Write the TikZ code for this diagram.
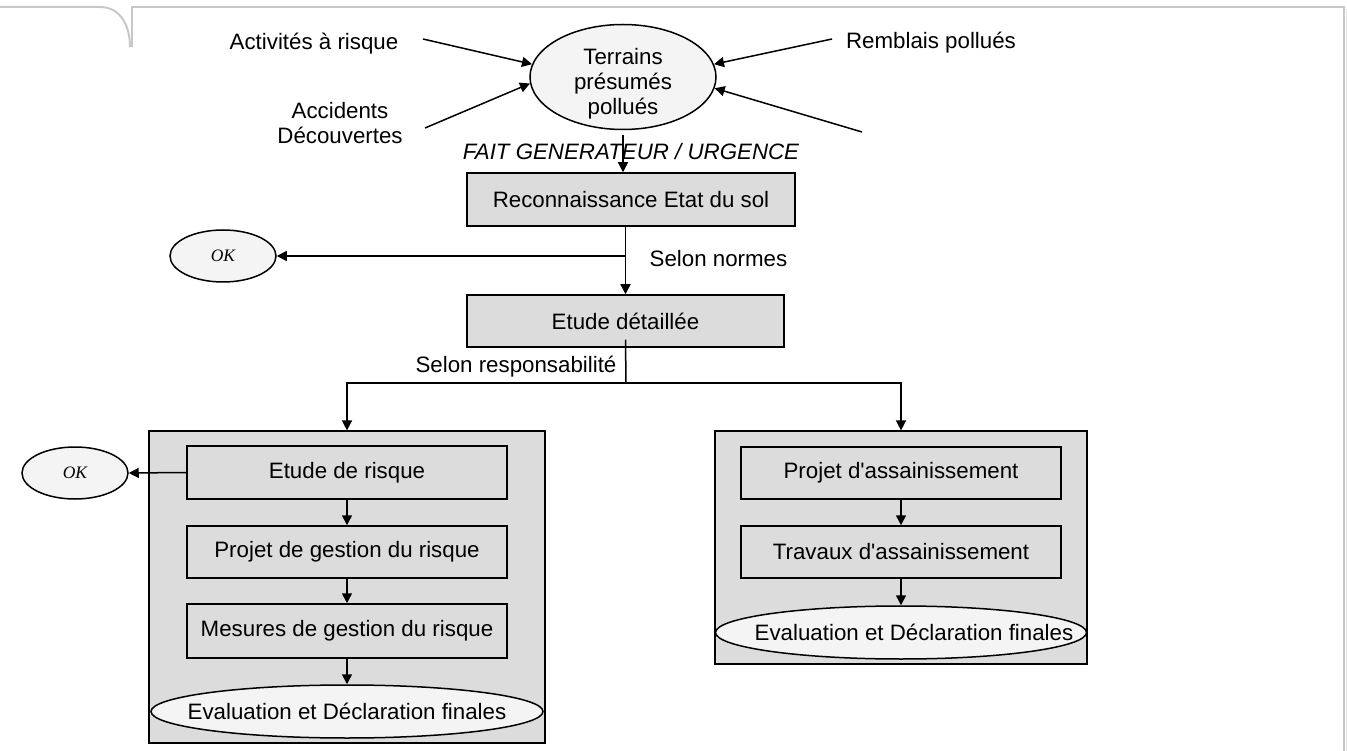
\documentclass[tikz,border=0pt]{standalone}
\usepackage{fontspec}
\setmainfont{Liberation Sans}[Ligatures=TeXOff]
\newfontfamily\okfont{Liberation Serif}
\usetikzlibrary{shapes.geometric,arrows.meta}

\definecolor{boxgrey}{HTML}{DCDCDC}
\definecolor{ovalfill}{HTML}{F4F4F4}
\definecolor{framegrey}{HTML}{C8C8C8}
\definecolor{frameshade}{HTML}{E2E2E2}

\tikzset{
  txt/.style={font=\fontsize{22.3}{25}\selectfont, inner sep=0pt, align=center},
  stepbox/.style={draw=black, line width=1.5pt, fill=boxgrey, inner sep=0pt,
    font=\fontsize{22.3}{25}\selectfont},
  groupbox/.style={draw=black, line width=1.2pt, fill=boxgrey, inner sep=0pt},
  oval/.style={ellipse, draw=black, line width=1.5pt, fill=ovalfill, inner sep=0pt},
  okoval/.style={ellipse, draw=black, line width=1.5pt, fill=ovalfill, inner sep=0pt,
    minimum width=106pt, minimum height=52pt,
    font=\okfont\itshape\fontsize{17.5}{20}\selectfont},
  link/.style={draw=black, line width=1.5pt},
  arr/.style={link, -{Triangle[length=10pt,width=10pt]}},
}

\begin{document}
\begin{tikzpicture}[x=1pt,y=-1pt]
  \useasboundingbox (0,0) rectangle (1347,751);

  % page frame with folded tab
  \draw[framegrey, line width=2pt] (0,7) -- (100,7)
    .. controls (120,7) and (130,25) .. (130,47);
  \draw[framegrey, line width=2pt] (132,47) -- (132,7) -- (1344,7) -- (1344,751);
  \draw[frameshade, line width=2pt] (1346.5,9) -- (1346.5,751);

  % sources
  \node[oval, minimum width=186pt, minimum height=105pt] (terr) at (623,77) {};
  \node[txt] (terrtxt) at (623,84) {Terrains\\présumés\\pollués};
  \node[txt] (act) at (314,44) {Activités à risque};
  \node[txt] (acc) at (340,123) {Accidents\\Découvertes};
  \node[txt] (remb) at (931,43) {Remblais pollués};
  \coordinate (srcA) at (423,39);
  \coordinate (srcB) at (425,128);
  \coordinate (srcC) at (832,39);
  \coordinate (srcD) at (862,132);
  \draw[arr] (srcA) -- (terr.172);
  \draw[arr] (srcB) -- (terr.184);
  \draw[arr] (srcC) -- (terr.8);
  \draw[arr] (srcD) -- (terr.-7);

  \node[txt, font=\itshape\fontsize{22.3}{25}\selectfont] (fait) at (631,152)
    {FAIT GENERATEUR / URGENCE};

  % main chain
  \node[stepbox, minimum width=328pt, minimum height=53pt] (recon) at (631,199.5)
    {Reconnaissance Etat du sol};
  \node[stepbox, minimum width=317pt, minimum height=52pt] (etude) at (625.5,321)
    {Etude détaillée};
  \node[okoval] (ok1) at (223,256) {OK};
  \node[txt] (normes) at (718.5,259) {Selon normes};

  \draw[arr, shorten <=5pt] (terr.south) -- (terr.south |- recon.north);
  \draw[arr] (etude.north |- recon.south) -- (etude.north);
  \draw[arr] (etude.north |- ok1.east) -- (ok1.east);

  % split by responsibility
  \node[txt] (resp) at (516,367) {Selon responsabilité};
  \coordinate (split) at (626,383);

  % risk management branch
  \node[groupbox, minimum width=396pt, minimum height=312pt] (riskgrp) at (347,587) {};
  \node[stepbox, minimum width=320pt, minimum height=53pt] (risk1) at (347,472.5)
    {Etude de risque};
  \node[stepbox, minimum width=320pt, minimum height=52pt] (risk2) at (347,552)
    {Projet de gestion du risque};
  \node[stepbox, minimum width=320pt, minimum height=54pt] (risk3) at (347,631)
    {Mesures de gestion du risque};
  \node[oval, minimum width=392pt, minimum height=53pt] (riskend) at (347,711.5) {};
  \node[txt] (riskendtxt) at (347,711.5) {Evaluation et Déclaration finales};
  \node[okoval] (ok2) at (75,473) {OK};

  % remediation branch
  \node[groupbox, minimum width=372pt, minimum height=233pt] (remgrp) at (901,547.5) {};
  \node[stepbox, minimum width=320pt, minimum height=52pt] (rem1) at (901,473)
    {Projet d'assainissement};
  \node[stepbox, minimum width=320pt, minimum height=52pt] (rem2) at (901,552)
    {Travaux d'assainissement};
  \node[oval, minimum width=371pt, minimum height=53pt] (remend) at (901,632.5) {};
  \node[txt] (remendtxt) at (914,632.5) {Evaluation et Déclaration finales};

  \draw[link] (etude.south) ++(0,-8) -- (split);
  \draw[arr] (split) -| (riskgrp.north);
  \draw[arr] (split) -| (remgrp.north);

  \draw[arr] (risk1.south) -- (risk2.north);
  \draw[arr] (risk2.south) -- (risk3.north);
  \draw[arr] (risk3.south) -- (riskend.north);
  \draw[arr] (risk1.west) -- (ok2.east);

  \draw[arr] (rem1.south) -- (rem2.north);
  \draw[arr] (rem2.south) -- (remend.north);
\end{tikzpicture}
\end{document}
